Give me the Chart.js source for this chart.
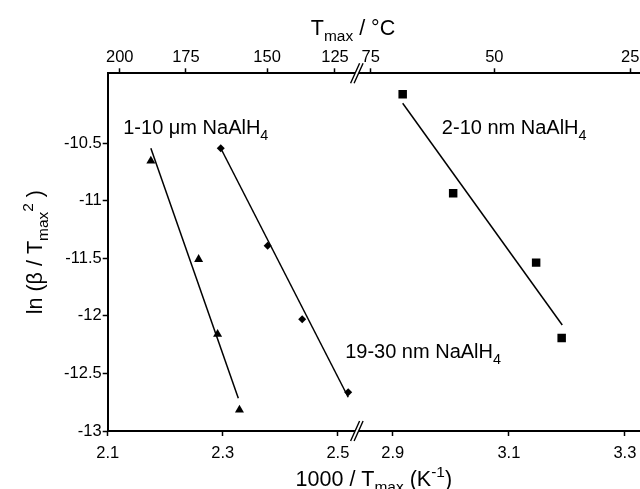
<!DOCTYPE html>
<html>
<head>
<meta charset="utf-8">
<script src="https://cdn.jsdelivr.net/npm/chart.js@4.4.1/dist/chart.umd.min.js"></script>
<style>
  html, body { margin: 0; padding: 0; background: #fff; }
  #kissinger { display: block; }
</style>
</head>
<body>
<canvas id="kissinger" width="640" height="489"></canvas>
<script>
// Data

var bottomTicksLeft = [2.1, 2.3, 2.5];
var bottomTicksRight = [2.9, 3.1, 3.3];
var yTicks = [-13, -12.5, -12, -11.5, -11, -10.5];

// top axis (Tmax / degC), placed where the figure puts them
var topLabelsLeft = ['200', '175', '150', '125'];
var topPosLeft = [2.121, 2.236, 2.377, 2.495];
var topLabelsRight = ['75', '50', '25'];
var topPosRight = [2.862, 3.075, 3.309];

// 1-10 um NaAlH4 (triangles)
var microX = [2.175, 2.258, 2.291, 2.329];
var microY = [-10.654, -11.508, -12.159, -12.817];
var microFitX = [2.175, 2.327];
var microFitY = [-10.543, -12.715];

// 19-30 nm NaAlH4 (diamonds)
var midX = [2.2965, 2.378, 2.438, 2.518];
var midY = [-10.543, -11.390, -12.029, -12.663];
var midFitX = [2.2965, 2.518];
var midFitY = [-10.543, -12.707];

// 2-10 nm NaAlH4 (squares)
var nanoX = [2.917, 3.004, 3.147, 3.191];
var nanoY = [-10.074, -10.934, -11.537, -12.192];
var nanoFitX = [2.917, 3.192];
var nanoFitY = [-10.152, -12.079];


// Methods

var FONT = "'Liberation Sans', Arial, sans-serif";

function pts(xs, ys) {
    return xs.map(function (x, i) { return { x: x, y: ys[i] }; });
}

function setTicks(values) {
    return function (scale) {
        scale.ticks = values.map(function (v) { return { value: v }; });
    };
}

function fixSize(prop, size) {
    return function (scale) {
        scale[prop] = size;
        scale.paddingLeft = 0;
        scale.paddingRight = 0;
        scale.paddingTop = 0;
        scale.paddingBottom = 0;
    };
}

function drawRich(ctx, parts, x, y, size, align) {
    var fontFor = function (p) {
        return ((p.sub || p.sup) ? size * 0.72 : size) + 'px ' + FONT;
    };
    var w = 0;
    parts.forEach(function (p) { ctx.font = fontFor(p); w += ctx.measureText(p.t).width; });
    var cx = align === 'center' ? x - w / 2 : x;
    parts.forEach(function (p) {
        ctx.font = fontFor(p);
        var dy = p.sub ? size * 0.28 : (p.sup ? -size * 0.42 : 0);
        ctx.fillText(p.t, cx, y + dy);
        cx += ctx.measureText(p.t).width;
    });
}

function drawBreak(ctx, cx, cy) {
    var h = 10, s = 4.5, gap = 3.5;
    ctx.save();
    ctx.fillStyle = '#fff';
    ctx.beginPath();
    ctx.moveTo(cx - gap / 2 - s, cy + h);
    ctx.lineTo(cx - gap / 2 + s, cy - h);
    ctx.lineTo(cx + gap / 2 + s, cy - h);
    ctx.lineTo(cx + gap / 2 - s, cy + h);
    ctx.closePath();
    ctx.fill();
    ctx.strokeStyle = '#000';
    ctx.lineWidth = 1.4;
    ctx.beginPath();
    ctx.moveTo(cx - gap / 2 - s, cy + h);
    ctx.lineTo(cx - gap / 2 + s, cy - h);
    ctx.moveTo(cx + gap / 2 - s, cy + h);
    ctx.lineTo(cx + gap / 2 + s, cy - h);
    ctx.stroke();
    ctx.restore();
}

var decor = {
    id: 'decor',
    afterDraw: function (chart) {
        var ctx = chart.ctx;
        var area = chart.chartArea;
        var s = chart.scales;
        var cut = s.xL.right;

        drawBreak(ctx, cut, area.top);
        drawBreak(ctx, cut, area.bottom);

        ctx.save();
        ctx.fillStyle = '#000';
        ctx.textAlign = 'left';
        ctx.textBaseline = 'alphabetic';

        // axis titles
        drawRich(ctx, [{ t: 'T' }, { t: 'max', sub: true }, { t: ' / \u00B0C' }], 353, 35, 21.5, 'center');
        drawRich(ctx, [{ t: '1000 / T' }, { t: 'max', sub: true }, { t: ' (K' }, { t: '-1', sup: true }, { t: ')' }],
            (area.left + area.right) / 2, 486, 21.5, 'center');
        ctx.save();
        ctx.translate(42, (area.top + area.bottom) / 2);
        ctx.rotate(-Math.PI / 2);
        drawRich(ctx, [{ t: 'ln (\u03B2 / T' }, { t: 'max', sub: true }, { t: '2', sup: true }, { t: ' )' }], 0, 0, 21.5, 'center');
        ctx.restore();

        // series labels
        drawRich(ctx, [{ t: '1-10 \u03BCm NaAlH' }, { t: '4', sub: true }],
            s.xL.getPixelForValue(2.127), s.y.getPixelForValue(-10.419), 20, 'left');
        drawRich(ctx, [{ t: '2-10 nm NaAlH' }, { t: '4', sub: true }],
            s.xR.getPixelForValue(2.9845), s.y.getPixelForValue(-10.419), 20, 'left');
        drawRich(ctx, [{ t: '19-30 nm NaAlH' }, { t: '4', sub: true }],
            s.xL.getPixelForValue(2.5127), s.y.getPixelForValue(-12.365), 20, 'left');
        ctx.restore();
    }
};

function axis(pos, stack, weight, min, max, ticks, labels, size) {
    return {
        type: 'linear',
        position: pos,
        stack: stack,
        stackWeight: weight,
        min: min,
        max: max,
        afterBuildTicks: setTicks(ticks),
        afterFit: fixSize('height', size),
        grid: { drawOnChartArea: false, drawTicks: true, tickLength: 5, tickColor: '#000', tickWidth: 1.5 },
        border: { display: true, color: '#000', width: 2 },
        ticks: {
            color: '#000',
            padding: pos === 'top' ? 1 : 8,
            maxRotation: 0,
            autoSkip: false,
            font: { family: FONT, size: 16.5 },
            callback: function (v, i) { return labels ? labels[i] : String(v); }
        }
    };
}

function init(canvas) {
    var line = { showLine: true, pointRadius: 0, borderColor: '#000', borderWidth: 1.5, fill: false };
    var mark = { showLine: false, backgroundColor: '#000', borderColor: '#000', borderWidth: 0 };

    var chart = new Chart(canvas, {
        type: 'scatter',
        data: {
            datasets: [
                Object.assign({ data: pts(microFitX, microFitY), xAxisID: 'xL' }, line),
                Object.assign({ data: pts(midFitX, midFitY), xAxisID: 'xL' }, line),
                Object.assign({ data: pts(nanoFitX, nanoFitY), xAxisID: 'xR' }, line),
                Object.assign({ data: pts(microX, microY), xAxisID: 'xL', pointStyle: 'triangle', pointRadius: 5.2 }, mark),
                Object.assign({ data: pts(midX, midY), xAxisID: 'xL', pointStyle: 'rectRot', pointRadius: 4 }, mark),
                Object.assign({ data: pts(nanoX, nanoY), xAxisID: 'xR', pointStyle: 'rect', pointRadius: 6 }, mark)
            ]
        },
        options: {
            responsive: false,
            animation: false,
            layout: { padding: 0, autoPadding: false },
            plugins: { legend: { display: false }, tooltip: { enabled: false } },
            scales: {
                xL: axis('bottom', 'b', 249, 2.1, 2.533, bottomTicksLeft, null, 58),
                xR: axis('bottom', 'b', 283, 2.838, 3.326, bottomTicksRight, null, 58),
                // top boxes are laid out in reverse order, so the right part comes first
                tR: axis('top', 't', 283, 2.838, 3.326, topPosRight, topLabelsRight, 73.3),
                tL: axis('top', 't', 249, 2.1, 2.533, topPosLeft, topLabelsLeft, 73.3),
                y: {
                    type: 'linear',
                    position: 'left',
                    min: -13,
                    max: -9.892,
                    afterBuildTicks: setTicks(yTicks),
                    afterFit: fixSize('width', 107.7),
                    grid: { drawOnChartArea: false, drawTicks: true, tickLength: 5, tickColor: '#000', tickWidth: 1.5 },
                    border: { display: true, color: '#000', width: 2 },
                    ticks: {
                        color: '#000',
                        padding: 1,
                        font: { family: FONT, size: 16.5 },
                        callback: function (v) { return String(v); }
                    }
                }
            }
        },
        plugins: [decor]
    });

    return chart;
}


// Events

init(document.getElementById('kissinger'));
</script>
</body>
</html>
